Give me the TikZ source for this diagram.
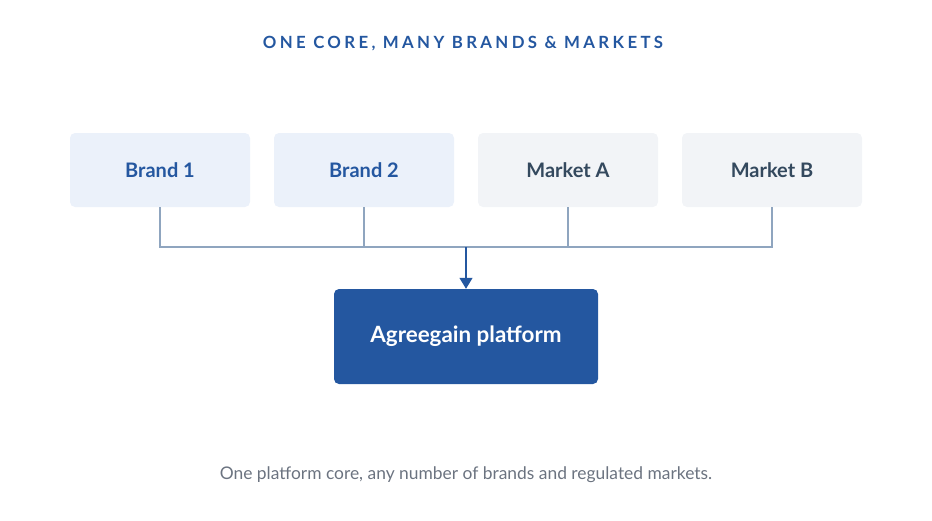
\documentclass[tikz,border=0pt]{standalone}
\usepackage{fontspec}
\setmainfont{Lato}
\usetikzlibrary{arrows.meta}
\definecolor{brandfill}{HTML}{EBF1FA}
\definecolor{marketfill}{HTML}{F2F4F7}
\definecolor{coreblue}{HTML}{2457A0}
\definecolor{darktext}{HTML}{34495E}
\definecolor{linkgray}{HTML}{8FA5BF}
\definecolor{captiongray}{HTML}{6B7380}
\begin{document}
\begin{tikzpicture}
[
    x=1pt, y=-1pt,
    box/.style={rounded corners=5pt, minimum width=180pt, minimum height=74pt,
        font=\fontsize{20}{22}\selectfont\bfseries},
    brand/.style={box, fill=brandfill, text=coreblue},
    market/.style={box, fill=marketfill, text=darktext},
    link/.style={draw=linkgray, line width=1.2pt},
]
\useasboundingbox (0,0) rectangle (932,520);
\node [font=\fontsize{16.8}{19}\selectfont\bfseries\addfontfeature{LetterSpace=20}, text=coreblue]
    (title) at (463,44) {ONE CORE, MANY BRANDS \& MARKETS};
\node [brand] (brand1) at (160,170) {Brand 1};
\node [brand] (brand2) at (364,170) {Brand 2};
\node [market] (marketA) at (568,170) {Market A};
\node [market] (marketB) at (772,170) {Market B};
\node [box, fill=coreblue, text=white, minimum width=264pt, minimum height=95pt,
    font=\fontsize{22.4}{25}\selectfont\bfseries]
    (core) at (466,336.5) {Agreegain platform};
\coordinate (hub) at (466,247);
% connectors
\draw [link] (brand1.south) |- (marketB.south |- hub) -- (marketB.south);
\draw [link] (brand2.south) -- (brand2.south |- hub);
\draw [link] (marketA.south) -- (marketA.south |- hub);
\draw [link, draw=coreblue, -{Triangle[length=11pt,width=13pt]}] (hub) -- (core.north);
\node [font=\fontsize{17.4}{20}\selectfont, text=captiongray]
    (caption) at (466,475) {One platform core, any number of brands and regulated markets.};
\end{tikzpicture}
\end{document}
